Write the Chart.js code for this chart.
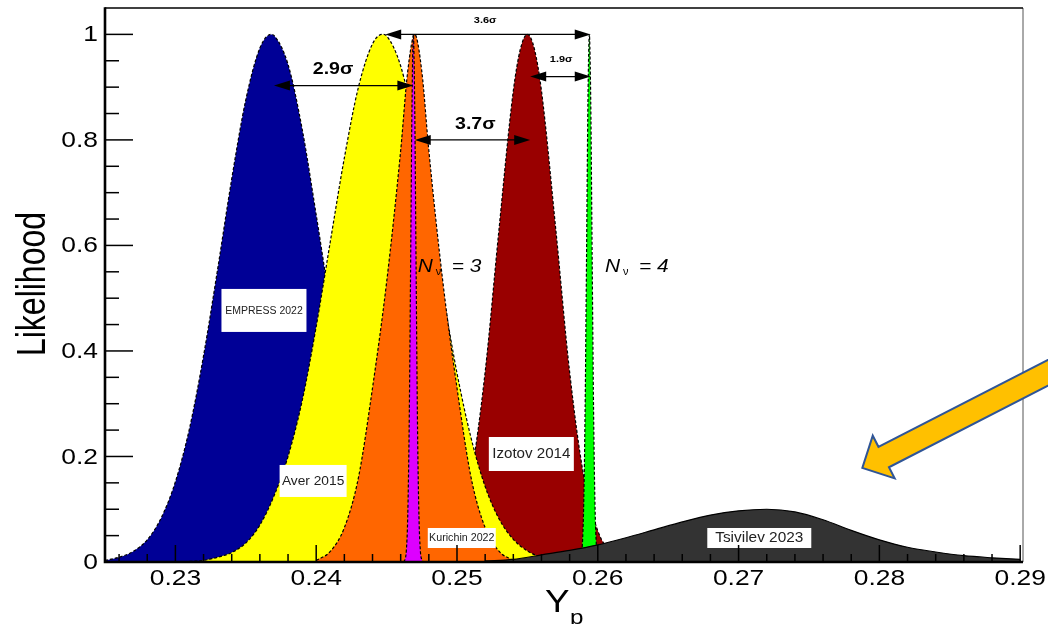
<!DOCTYPE html>
<html>
<head>
<meta charset="utf-8">
<title>Yp likelihoods</title>
<script src="https://cdn.jsdelivr.net/npm/chart.js@4.4.0/dist/chart.umd.min.js"></script>
<style>
  html, body { margin: 0; padding: 0; background: #fff; }
  #wrap { width: 1048px; height: 624px; position: relative; }
</style>
</head>
<body>
<div id="wrap"><canvas id="yp"></canvas></div>
<script>
// tick labels
const X_TICKS = [0.23, 0.24, 0.25, 0.26, 0.27, 0.28, 0.29];
const X_TICK_LABELS = ['0.23', '0.24', '0.25', '0.26', '0.27', '0.28', '0.29'];
const Y_TICKS = [0, 0.2, 0.4, 0.6, 0.8, 1];
const Y_TICK_LABELS = ['0', '0.2', '0.4', '0.6', '0.8', '1'];

// EMPRESS 2022 (blue)
const empressX = [0.225, 0.226, 0.227, 0.228, 0.229, 0.230, 0.231, 0.232, 0.233, 0.234, 0.235, 0.236, 0.2368,
  0.237, 0.238, 0.239, 0.240, 0.241, 0.242, 0.243, 0.244, 0.245, 0.246, 0.247, 0.248, 0.249, 0.250];
const empressY = [0.003, 0.009, 0.020, 0.042, 0.084, 0.152, 0.253, 0.391, 0.555, 0.726, 0.876, 0.974, 1.0,
  0.998, 0.943, 0.821, 0.658, 0.487, 0.332, 0.208, 0.121, 0.064, 0.032, 0.014, 0.006, 0.002, 0.0];

// Aver 2015 (yellow)
const averX = [0.231, 0.232, 0.233, 0.234, 0.235, 0.236, 0.237, 0.238, 0.239, 0.240, 0.241, 0.242, 0.243, 0.244, 0.2447,
  0.245, 0.246, 0.247, 0.248, 0.249, 0.250, 0.251, 0.252, 0.253, 0.254, 0.255, 0.256, 0.257, 0.258];
const averY = [0.001, 0.003, 0.009, 0.018, 0.036, 0.070, 0.125, 0.200, 0.305, 0.446, 0.607, 0.766, 0.900, 0.982, 1.0,
  0.997, 0.940, 0.824, 0.672, 0.509, 0.358, 0.235, 0.143, 0.081, 0.043, 0.021, 0.009, 0.004, 0.002];

// Izotov 2014 (dark red)
const izotovX = [0.247, 0.248, 0.249, 0.250, 0.251, 0.252, 0.253, 0.254, 0.2545, 0.255, 0.2555,
  0.256, 0.257, 0.258, 0.259, 0.260, 0.261, 0.262, 0.263];
const izotovY = [0.001, 0.004, 0.017, 0.059, 0.163, 0.360, 0.635, 0.893, 0.972, 1.0, 0.972,
  0.893, 0.635, 0.360, 0.163, 0.059, 0.017, 0.004, 0.001];

// Kurichin 2022 (orange)
const kurichinX = [0.240, 0.241, 0.242, 0.243, 0.244, 0.245, 0.246, 0.2465, 0.247, 0.2475, 0.248, 0.249, 0.250, 0.251, 0.252, 0.253, 0.254];
const kurichinY = [0.003, 0.020, 0.065, 0.160, 0.330, 0.530, 0.780, 0.930, 1.0, 0.930, 0.780, 0.530, 0.330, 0.160, 0.065, 0.020, 0.003];

// N_nu = 3 (magenta)
const nu3X = [0.2462, 0.2463, 0.2464, 0.2465, 0.2466, 0.2467, 0.2468, 0.2469, 0.2470, 0.2471, 0.2472, 0.2473, 0.2474, 0.2475, 0.2476];
const nu3Y = [0.0005, 0.004, 0.021, 0.085, 0.249, 0.540, 0.857, 1.0, 0.857, 0.540, 0.249, 0.085, 0.021, 0.004, 0.0005];

// N_nu = 4 (green)
const nu4X = [0.2587, 0.2588, 0.2589, 0.2590, 0.2591, 0.2592, 0.2593, 0.2594, 0.2595, 0.2596, 0.2597, 0.2598, 0.2599, 0.2600, 0.2601];
const nu4Y = [0.001, 0.007, 0.031, 0.109, 0.287, 0.574, 0.871, 1.0, 0.871, 0.574, 0.287, 0.109, 0.031, 0.007, 0.001];

// Tsivilev 2023 (dark grey)
const tsivilevX = [0.252, 0.254, 0.256, 0.258, 0.260, 0.262, 0.264, 0.266, 0.268, 0.270, 0.272,
  0.274, 0.276, 0.278, 0.280, 0.282, 0.284, 0.286, 0.288, 0.290];
const tsivilevY = [0.002, 0.005, 0.0135, 0.022, 0.0325, 0.046, 0.061, 0.076, 0.089, 0.097, 0.100,
  0.095, 0.080, 0.060, 0.042, 0.028, 0.019, 0.012, 0.008, 0.005];

// sigma separations
const SIGMA_LABELS = ['2.9σ', '3.7σ', '3.6σ', '1.9σ'];
const SIGMA_FROM = [0.2370, 0.2470, 0.2449, 0.2552];
const SIGMA_TO = [0.2469, 0.2552, 0.2595, 0.2595];
const SIGMA_AT = [0.903, 0.80, 1.0, 0.92];

const pts = (xs, ys) => xs.map((x, i) => ({ x, y: ys[i] }));

const FONT = '"Liberation Sans", Arial, Helvetica, sans-serif';

// annotation placement (data units) and looks
const sigmaText = [
  { x: 0.2412, y: 0.933, size: 17 },
  { x: 0.2513, y: 0.830, size: 17 },
  { x: 0.2520, y: 1.027, size: 9.5 },
  { x: 0.2574, y: 0.952, size: 9.5 }
];
const boxes = [
  { text: 'EMPRESS 2022', x: 0.23629, y: 0.4768, w: 85, h: 43, size: 10, sx: 1.05 },
  { text: 'Aver 2015', x: 0.23978, y: 0.1536, w: 67, h: 32, size: 12.5, sx: 1.1 },
  { text: 'Izotov 2014', x: 0.25528, y: 0.2047, w: 85, h: 34, size: 14, sx: 1.08 },
  { text: 'Kurichin 2022', x: 0.25034, y: 0.0455, w: 68, h: 20, size: 10, sx: 1.07 },
  { text: 'Tsivilev 2023', x: 0.27147, y: 0.0455, w: 104, h: 20, size: 14, sx: 1.1 }
];
const nuLabels = [
  { n: '3', x: 0.24721, y: 0.5498 },
  { n: '4', x: 0.26051, y: 0.5498 }
];
const bigArrow = { fromX: 0.2943, fromY: 0.3905, toX: 0.27879, toY: 0.1782 };

function txt(ctx, s, x, y, size, opts = {}) {
  ctx.save();
  ctx.translate(x, y);
  ctx.scale(opts.sx || 1, 1);
  ctx.font = (opts.style || '') + ' ' + size + 'px ' + FONT;
  ctx.textAlign = opts.align || 'center';
  ctx.textBaseline = opts.base || 'middle';
  ctx.fillStyle = opts.color || '#000';
  ctx.fillText(s, 0, 0);
  ctx.restore();
}

function head(ctx, x, y, dir) {
  ctx.beginPath();
  ctx.moveTo(x, y);
  ctx.lineTo(x + dir * 16, y - 5);
  ctx.lineTo(x + dir * 16, y + 5);
  ctx.closePath();
  ctx.fill();
}

const decor = {
  id: 'decor',
  afterDatasetsDraw(chart) {
    const ctx = chart.ctx;
    const sx = chart.scales.x, sy = chart.scales.y;
    const { left, right, top, bottom } = chart.chartArea;
    ctx.save();

    // sigma arrows
    ctx.strokeStyle = '#000';
    ctx.fillStyle = '#000';
    ctx.lineWidth = 1.3;
    SIGMA_LABELS.forEach((lab, i) => {
      const x1 = sx.getPixelForValue(SIGMA_FROM[i]);
      const x2 = sx.getPixelForValue(SIGMA_TO[i]);
      const y = sy.getPixelForValue(SIGMA_AT[i]);
      ctx.beginPath();
      ctx.moveTo(x1 + 10, y);
      ctx.lineTo(x2 - 10, y);
      ctx.stroke();
      head(ctx, x1, y, 1);
      head(ctx, x2, y, -1);
      const t = sigmaText[i];
      txt(ctx, lab, sx.getPixelForValue(t.x), sy.getPixelForValue(t.y), t.size, { style: 'bold', sx: 1.15 });
    });

    // N_nu labels
    nuLabels.forEach(l => {
      const x = sx.getPixelForValue(l.x), y = sy.getPixelForValue(l.y);
      txt(ctx, 'N', x, y, 19, { style: 'italic', align: 'left', base: 'alphabetic', sx: 1.1 });
      txt(ctx, 'ν', x + 18, y + 3, 11, { align: 'left', base: 'alphabetic' });
      txt(ctx, '= ' + l.n, x + 34, y, 19, { style: 'italic', align: 'left', base: 'alphabetic', sx: 1.1 });
    });

    // white label boxes
    boxes.forEach(b => {
      const cx = sx.getPixelForValue(b.x), cy = sy.getPixelForValue(b.y);
      ctx.fillStyle = '#fff';
      ctx.fillRect(cx - b.w / 2, cy - b.h / 2, b.w, b.h);
      txt(ctx, b.text, cx, cy + 0.5, b.size, { sx: b.sx, color: '#222' });
    });

    // ticks (inside the frame, ROOT style)
    ctx.strokeStyle = '#000';
    ctx.lineWidth = 1.5;
    for (let k = 113; k <= 145; k++) {
      const px = sx.getPixelForValue(k * 0.002);
      const len = k % 5 === 0 ? 17 : 8;
      ctx.beginPath();
      ctx.moveTo(px, bottom);
      ctx.lineTo(px, bottom - len);
      ctx.stroke();
    }
    for (let k = 0; k <= 20; k++) {
      const py = sy.getPixelForValue(k * 0.05);
      const len = k % 4 === 0 ? 28 : 14;
      ctx.beginPath();
      ctx.moveTo(left, py);
      ctx.lineTo(left + len, py);
      ctx.stroke();
    }

    // frame
    ctx.strokeStyle = '#555';
    ctx.lineWidth = 1;
    ctx.beginPath();
    ctx.moveTo(right, top);
    ctx.lineTo(right, bottom);
    ctx.stroke();
    ctx.strokeStyle = '#000';
    ctx.lineWidth = 1.5;
    ctx.beginPath();
    ctx.moveTo(left, top);
    ctx.lineTo(right, top);
    ctx.stroke();
    ctx.lineWidth = 2.6;
    ctx.beginPath();
    ctx.moveTo(left, top - 0.7);
    ctx.lineTo(left, bottom);
    ctx.lineTo(right, bottom);
    ctx.stroke();

    // tick labels
    X_TICKS.forEach((v, i) => {
      txt(ctx, X_TICK_LABELS[i], sx.getPixelForValue(v), bottom + 23, 22, { base: 'alphabetic', sx: 1.2 });
    });
    Y_TICKS.forEach((v, i) => {
      txt(ctx, Y_TICK_LABELS[i], left - 7, sy.getPixelForValue(v) + 1, 22, { align: 'right', sx: 1.2 });
    });

    // axis titles
    ctx.save();
    ctx.translate(left - 71, (top + bottom) / 2 - 1);
    ctx.rotate(-Math.PI / 2);
    ctx.scale(1, 1.28);
    ctx.font = '32px ' + FONT;
    ctx.textAlign = 'center';
    ctx.textBaseline = 'middle';
    ctx.fillStyle = '#000';
    ctx.fillText('Likelihood', 0, 0);
    ctx.restore();
    txt(ctx, 'Y', left + 440, bottom + 50, 32, { align: 'left', base: 'alphabetic', sx: 1.15 });
    txt(ctx, 'p', left + 465, bottom + 62, 21, { align: 'left', base: 'alphabetic', sx: 1.15 });

    // big pointing arrow
    const tx = sx.getPixelForValue(bigArrow.fromX), ty = sy.getPixelForValue(bigArrow.fromY);
    const hx = sx.getPixelForValue(bigArrow.toX), hy = sy.getPixelForValue(bigArrow.toY);
    const L = Math.hypot(hx - tx, hy - ty);
    const dx = (hx - tx) / L, dy = (hy - ty) / L;
    const nx = -dy, ny = dx;
    const bw = 11.5, hw = 24, hl = 24;
    const bx = hx - dx * hl, by = hy - dy * hl;
    ctx.beginPath();
    ctx.moveTo(tx + nx * bw, ty + ny * bw);
    ctx.lineTo(bx + nx * bw, by + ny * bw);
    ctx.lineTo(bx + nx * hw, by + ny * hw);
    ctx.lineTo(hx, hy);
    ctx.lineTo(bx - nx * hw, by - ny * hw);
    ctx.lineTo(bx - nx * bw, by - ny * bw);
    ctx.lineTo(tx - nx * bw, ty - ny * bw);
    ctx.closePath();
    ctx.fillStyle = '#ffc000';
    ctx.fill();
    ctx.strokeStyle = '#2f5597';
    ctx.lineWidth = 2;
    ctx.lineJoin = 'miter';
    ctx.stroke();

    ctx.restore();
  }
};

function curve(label, xs, ys, color, order, dashed = true) {
  return {
    label,
    data: pts(xs, ys),
    backgroundColor: color,
    borderColor: '#000',
    borderWidth: 1.2,
    borderDash: dashed ? [3, 2] : [],
    fill: 'origin',
    pointRadius: 0,
    cubicInterpolationMode: 'monotone',
    order
  };
}

const chart = new Chart(document.getElementById('yp'), {
  type: 'line',
  data: {
    datasets: [
      curve('Tsivilev 2023', tsivilevX, tsivilevY, '#333333', 0, false),
      curve('N_nu = 4', nu4X, nu4Y, '#00ff00', 1),
      curve('N_nu = 3', nu3X, nu3Y, '#dd00ff', 2),
      curve('Kurichin 2022', kurichinX, kurichinY, '#ff6600', 3),
      curve('Aver 2015', averX, averY, '#ffff00', 4),
      curve('Izotov 2014', izotovX, izotovY, '#990000', 5),
      curve('EMPRESS 2022', empressX, empressY, '#000096', 6)
    ]
  },
  options: {
    responsive: true,
    maintainAspectRatio: false,
    animation: false,
    layout: { padding: { left: 0, right: 25, top: 8, bottom: 0 } },
    plugins: {
      legend: { display: false },
      tooltip: { enabled: false }
    },
    scales: {
      x: {
        type: 'linear',
        min: 0.225,
        max: 0.2902,
        ticks: { display: false },
        grid: { display: false },
        border: { display: false },
        afterFit(s) { s.height = 62; }
      },
      y: {
        min: 0,
        max: 1.05,
        ticks: { display: false },
        grid: { display: false },
        border: { display: false },
        afterFit(s) { s.width = 105; }
      }
    }
  },
  plugins: [decor]
});
</script>
</body>
</html>
